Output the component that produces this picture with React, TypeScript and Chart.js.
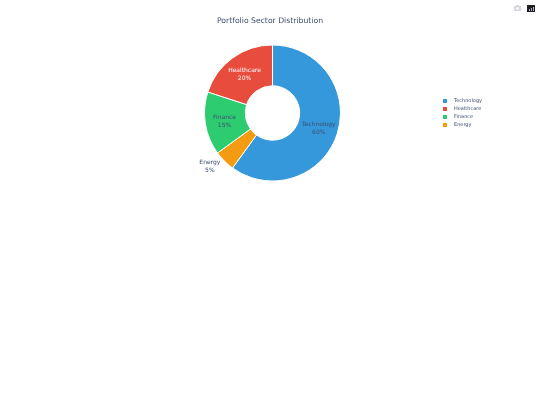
import React, { useEffect, useRef } from "react";
import { Chart, registerables } from "chart.js";

Chart.register(...registerables);

const title = "Portfolio Sector Distribution";
const categories = ["Technology", "Energy", "Finance", "Healthcare"];
const shares = [60, 5, 15, 20];
const colors = ["#3498db", "#f39c12", "#2ecc71", "#e74c3c"];
const legendOrder = ["Technology", "Healthcare", "Finance", "Energy"];
const labelColors = ["#3d4f6e", "#3d4f6e", "#3d4f6e", "#ffffff"];
const labelOffsets = [[1, 1], [-29, 20], [-1, 1], [0, 0]];

const FONT = '"DejaVu Sans"';

const overlay = {
  id: "overlay",
  afterDraw(chart: any) {
    const ctx = chart.ctx as CanvasRenderingContext2D;
    const arcs = chart.getDatasetMeta(0).data;
    ctx.save();
    ctx.textBaseline = "middle";

    ctx.textAlign = "center";
    ctx.fillStyle = "#3d4f6e";
    ctx.font = `7.7px ${FONT}`;
    ctx.fillText(title, 270, 21);

    ctx.font = `6px ${FONT}`;
    categories.forEach((name, i) => {
      const c = arcs[i].getCenterPoint();
      const x = c.x + labelOffsets[i][0];
      const y = c.y + labelOffsets[i][1];
      ctx.fillStyle = labelColors[i];
      ctx.fillText(name, x, y - 4);
      ctx.fillText(`${shares[i]}%`, x, y + 4);
    });

    ctx.textAlign = "left";
    ctx.font = `5px ${FONT}`;
    legendOrder.forEach((name, i) => {
      const y = 101 + i * 8;
      ctx.fillStyle = colors[categories.indexOf(name)];
      ctx.fillRect(443, y - 2, 4, 4);
      ctx.fillStyle = "#3d4f6e";
      ctx.fillText(name, 454, y);
    });

    ctx.fillStyle = "#d4d8de";
    ctx.fillRect(514, 6, 7, 5);
    ctx.fillRect(516, 5, 3, 1);
    ctx.fillStyle = "#ffffff";
    ctx.beginPath();
    ctx.arc(517.5, 8.5, 1.3, 0, Math.PI * 2);
    ctx.fill();
    ctx.fillStyle = "#1f2024";
    ctx.fillRect(527, 5, 8, 7);
    ctx.fillStyle = "#a9adb5";
    ctx.fillRect(529, 9, 1, 2);
    ctx.fillRect(531, 8, 1, 3);
    ctx.fillRect(533, 7, 1, 4);
    ctx.restore();
  },
};

export default function App() {
  const ref = useRef<HTMLCanvasElement>(null);
  useEffect(() => {
    const chart = new Chart(ref.current!, {
      type: "doughnut",
      data: {
        labels: categories,
        datasets: [
          {
            data: shares,
            backgroundColor: colors,
            borderColor: "#ffffff",
            borderWidth: 1,
            hoverOffset: 0,
            borderAlign: "center",
          },
        ],
      },
      options: {
        responsive: false,
        animation: false,
        cutout: "40%",
        layout: { padding: { left: 204, right: 199, top: 44, bottom: 223 } },
        plugins: { legend: { display: false }, tooltip: { enabled: false } },
      },
      plugins: [overlay],
    } as any);
    return () => chart.destroy();
  }, []);
  return (
    <div style={{ position: "absolute", left: 0, top: 0, width: 540, height: 405, background: "#fff" }}>
      <canvas ref={ref} width={540} height={405} style={{ display: "block" }} />
    </div>
  );
}
